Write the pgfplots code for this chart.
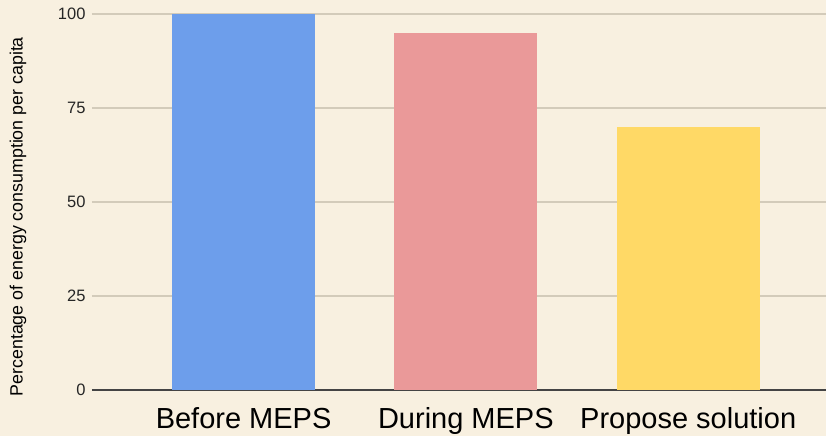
\documentclass[border=0pt]{standalone}
\usepackage{pgfplots}
\pgfplotsset{compat=1.18}
\usepackage{fontspec}
\setmainfont{Liberation Sans}
\definecolor{bg}{HTML}{F8F0E0}
\definecolor{gridc}{HTML}{D3CBBA}
\definecolor{axisc}{HTML}{444444}
\definecolor{cblue}{HTML}{6D9EEB}
\definecolor{cpink}{HTML}{EA9999}
\definecolor{cyellow}{HTML}{FFD966}
\begin{document}
\begin{tikzpicture}
\path[use as bounding box, fill=bg] (-92bp,-46bp) rectangle (734bp,390bp);
\begin{axis}[
  scale only axis, width=734bp, height=376bp,
  xmin=-0.682, xmax=2.62, ymin=0, ymax=100,
  axis line style={draw=none},
  ytick={25,50,75,100},
  extra y ticks={0},
  extra y tick style={ymajorgrids=true, grid style={axisc, line width=1.5bp}},
  ymajorgrids, grid style={gridc, line width=1.2bp},
  major tick length=0pt,
  /pgf/number format/assume math mode=true,
  yticklabel style={font=\fontsize{16.5bp}{18bp}\selectfont, color=black!85, xshift=-3bp},
  xtick={0,1,2},
  xticklabels={Before MEPS, During MEPS, Propose solution},
  xticklabel style={font=\fontsize{29bp}{32bp}\selectfont, anchor=base, yshift=-38bp},
  ylabel={Percentage of energy consumption per capita},
  every axis y label/.style={at={(axis description cs:-0.1008,0.461)}, rotate=90, anchor=center, font=\fontsize{17.8bp}{19bp}\selectfont},
  ybar, bar width=143bp, bar shift=0pt,
  clip=false,
]
\addplot[fill=cblue, draw=none] coordinates {(0,100)};
\addplot[fill=cpink, draw=none] coordinates {(1,95)};
\addplot[fill=cyellow, draw=none] coordinates {(2,70)};
\end{axis}
\end{tikzpicture}
\end{document}
